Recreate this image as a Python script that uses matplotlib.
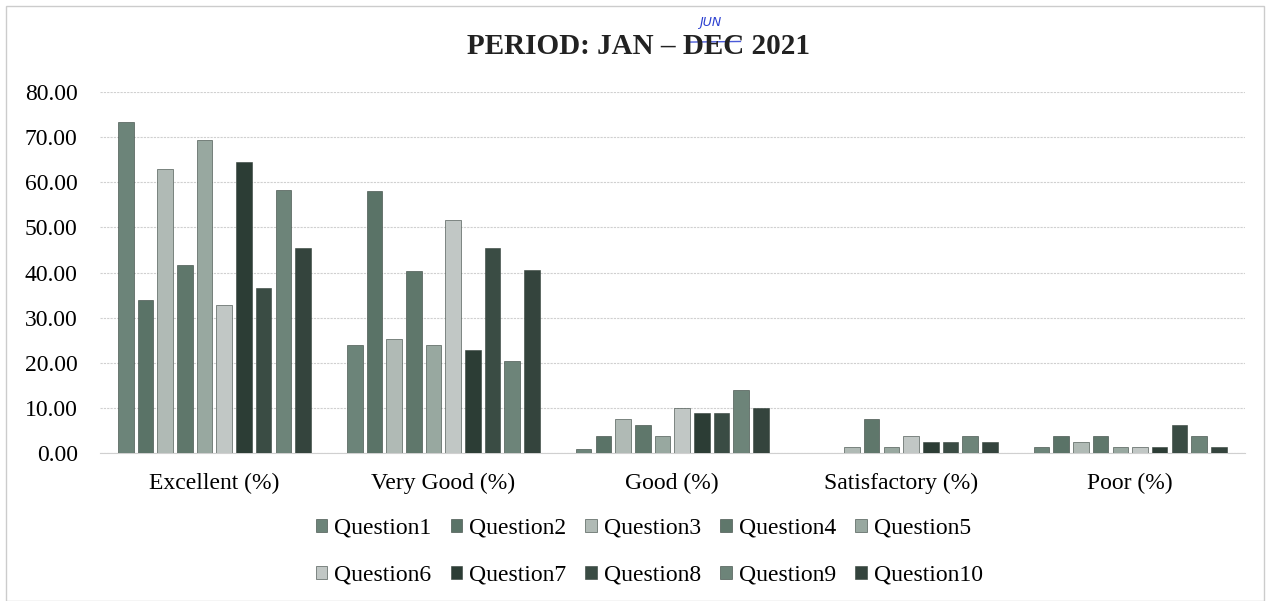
import numpy as np
import matplotlib.pyplot as plt
from matplotlib.patches import Rectangle

plt.rcParams["font.family"] = ["Liberation Serif", "DejaVu Serif"]

categories = ["Excellent (%)", "Very Good (%)", "Good (%)", "Satisfactory (%)", "Poor (%)"]
questions = ["Question%d" % i for i in range(1, 11)]

# per question: [Excellent, Very Good, Good, Satisfactory, Poor]
q1 = [73.3, 24.0, 1.0, 0.0, 1.3]
q2 = [34.0, 58.0, 3.8, 0.0, 3.8]
q3 = [63.0, 25.3, 7.5, 1.3, 2.5]
q4 = [41.6, 40.4, 6.3, 7.6, 3.8]
q5 = [69.4, 24.0, 3.8, 1.3, 1.3]
q6 = [32.8, 51.7, 10.1, 3.8, 1.3]
q7 = [64.4, 22.8, 8.8, 2.5, 1.3]
q8 = [36.6, 45.5, 8.8, 2.5, 6.3]
q9 = [58.2, 20.3, 13.9, 3.8, 3.8]
q10 = [45.5, 40.5, 10.1, 2.5, 1.3]
series = [q1, q2, q3, q4, q5, q6, q7, q8, q9, q10]

colors = ["#6c8479", "#5a7367", "#b0bab5", "#5f776b", "#98a8a0",
          "#c1c7c5", "#2c3d35", "#3a4c44", "#6d8479", "#34443d"]

fig = plt.figure(figsize=(12.7, 6.01), dpi=100)
ax = fig.add_axes([0.0787, 0.246, 0.9013, 0.601])

x = np.arange(len(categories))
stride = 0.086
width = 0.068
for i, (vals, c) in enumerate(zip(series, colors)):
    ax.bar(x + (i - 4.5) * stride, vals, width, color=c, edgecolor="#33403a",
           linewidth=0.4, label=questions[i], zorder=3)

ax.set_xlim(-0.5, 4.5)
ax.set_ylim(0, 80)
ax.set_yticks(np.arange(0, 81, 10))
ax.set_yticklabels(["%.2f" % v for v in np.arange(0, 81, 10)], fontsize=17)
ax.set_xticks(x)
ax.set_xticklabels(categories, fontsize=17)
ax.tick_params(axis="y", length=0, pad=16)
ax.tick_params(axis="x", length=0, pad=14)
ax.yaxis.grid(True, color="#d0d0d0", linewidth=0.8, linestyle=(0, (2, 1)), zorder=0)
for s in ["top", "right", "left"]:
    ax.spines[s].set_visible(False)
ax.spines["bottom"].set_color("#d0d0d0")

fig.text(0.5025, 0.922, "PERIOD: JAN \u2013 DEC 2021", ha="center", va="center",
         fontsize=21, fontweight="bold", color="#222222")
# handwritten correction above DEC
fig.text(0.559, 0.962, "JUN", ha="center", va="center", fontsize=9,
         color="#2b3fd0", family="DejaVu Sans", style="italic")
fig.lines.append(plt.Line2D([0.543, 0.583], [0.930, 0.931], transform=fig.transFigure,
                            color="#4a5ad8", linewidth=1.0))

handles, labels = ax.get_legend_handles_labels()
order = [0, 5, 1, 6, 2, 7, 3, 8, 4, 9]
ax.legend([handles[k] for k in order], [labels[k] for k in order],
          loc="upper center", bbox_to_anchor=(0.48, -0.12), ncol=5, frameon=False,
          fontsize=17, handlelength=0.5, handleheight=0.5, handletextpad=0.3,
          columnspacing=0.8, labelspacing=1.1)

fig.patches.append(Rectangle((0.005, 0.0), 0.99, 0.99, transform=fig.transFigure,
                             fill=False, edgecolor="#cccccc", linewidth=1.0))

fig.savefig("out.png", dpi=100)
